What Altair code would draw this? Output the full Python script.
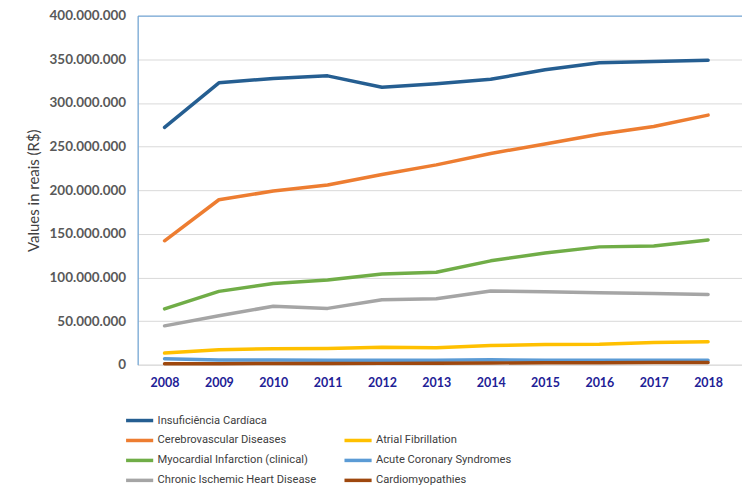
import altair as alt
import pandas as pd

years = [2008, 2009, 2010, 2011, 2012, 2013, 2014, 2015, 2016, 2017, 2018]

# values in millions of R$
insuficiencia = [272, 323, 328, 331, 318, 322, 327, 338, 346, 347.5, 349]
cerebrovascular = [142, 189, 199, 206, 218, 229, 242, 253, 264, 273, 286]
atrial = [13.3, 17, 18.3, 18.6, 20, 19.4, 22, 23, 23.4, 25.5, 26.3]
myocardial = [64, 84, 93, 97, 104, 106, 119, 128, 135, 136, 143]
acute = [6.8, 5.5, 5.3, 5.2, 5.0, 5.0, 5.7, 5.0, 5.0, 5.0, 5.0]
chronic = [44.5, 56, 67, 64.5, 74.5, 75.5, 84.5, 83.5, 82.5, 81.5, 80.5]
cardiomyopathies = [1.0, 1.2, 1.3, 1.4, 1.5, 1.7, 2.0, 2.2, 2.3, 2.4, 2.6]

series_names = [
    "Insuficiência Cardíaca",
    "Cerebrovascular Diseases",
    "Atrial Fibrillation",
    "Myocardial Infarction (clinical)",
    "Acute Coronary Syndromes",
    "Chronic Ischemic Heart Disease",
    "Cardiomyopathies",
]
series_values = [insuficiencia, cerebrovascular, atrial, myocardial, acute, chronic, cardiomyopathies]
series_colors = ["#255E91", "#ED7D31", "#FFC000", "#70AD47", "#5B9BD5", "#A5A5A5", "#9E480E"]

y_ticks = [0, 50, 100, 150, 200, 250, 300, 350, 400]

rows = []
for name, vals in zip(series_names, series_values):
    for yr, v in zip(years, vals):
        rows.append({"year": yr, "series": name, "value": v * 1_000_000})
df = pd.DataFrame(rows)

# legend is filled column by column (2 columns x 4 rows); a blank slot tops column 2
legend_domain = [series_names[0], series_names[1], series_names[3], series_names[5],
                 " ", series_names[2], series_names[4], series_names[6]]
legend_range = [series_colors[0], series_colors[1], series_colors[3], series_colors[5],
                "transparent", series_colors[2], series_colors[4], series_colors[6]]

W = 606
H = 350

chart = alt.Chart(df).mark_line(strokeWidth=3.5, strokeCap="round", strokeJoin="round").encode(
    x=alt.X("year:Q",
            scale=alt.Scale(domain=[2007.505, 2018.624], nice=False, zero=False),
            axis=alt.Axis(values=years, format="d", title=None, grid=False, domain=False,
                          ticks=False, labelPadding=12, labelFont="Lato", labelFontSize=12.5,
                          labelFontWeight="bold", labelColor="#1E2196")),
    y=alt.Y("value:Q",
            scale=alt.Scale(domain=[0, 400_000_000], nice=False),
            axis=alt.Axis(values=[t * 1_000_000 for t in y_ticks],
                          labelExpr="replace(replace(format(datum.value, ',d'), ',', '.'), ',', '.')",
                          title="Values in reais (R$)", titleFont="Lato", titleFontSize=15,
                          titleFontWeight="normal", titleColor="#404040", titlePadding=8,
                          labelFont="Lato", labelFontSize=13.5, labelFontWeight="bold",
                          labelColor="#595959", labelPadding=12, ticks=False,
                          domainColor="#5B9BD5", domainWidth=1,
                          gridColor={"condition": {"test": "datum.value >= 400000000", "value": "#5B9BD5"},
                                     "value": "#D9D9D9"})),
    color=alt.Color("series:N",
                    scale=alt.Scale(domain=legend_domain, range=legend_range),
                    legend=alt.Legend(orient="none", legendX=-8, legendY=396, columns=2,
                                      direction="vertical",
                                      title=None, symbolType="M-1.7,0H1.7", symbolStrokeWidth=3.5,
                                      symbolSize=256, labelFont="Roboto",
                                      labelFontSize=11.2, labelColor="#404040", labelOffset=8,
                                      columnPadding=20, rowPadding=3, labelLimit=300)),
    detail="series:N",
).properties(
    width=W, height=H,
    padding={"left": 18, "top": 0, "right": 0, "bottom": 0},
).configure_view(stroke=None).configure(background="white")

chart.save("out.html", embed_options={"renderer": "svg", "actions": False})
